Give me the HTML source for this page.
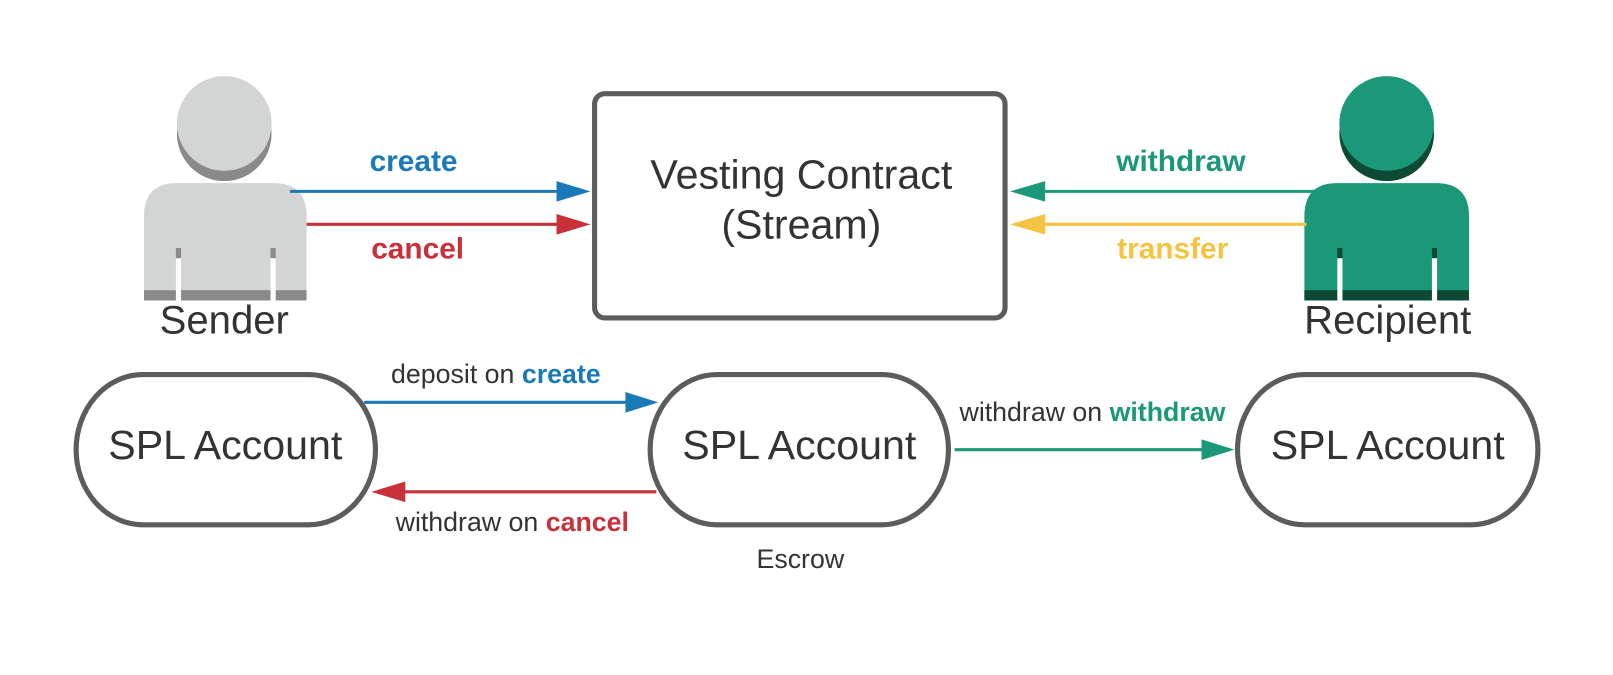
<!DOCTYPE html>
<html><head><meta charset="utf-8"><style>
html,body{margin:0;padding:0;background:#fff;}
svg{display:block;}
text{font-family:"Liberation Sans",sans-serif;}
</style></head><body>
<svg width="1613" height="675" viewBox="0 0 1568 656" preserveAspectRatio="none" xmlns="http://www.w3.org/2000/svg">
<!-- Sender -->
<g>
<circle cx="218" cy="130" r="46" fill="#8a8a8a"/>
<circle cx="218" cy="120" r="46" fill="#d3d4d4"/>
<path d="M140,292 L140,210 Q140,178 172,178 L266,178 Q298,178 298,210 L298,292 Z" fill="#d3d4d4"/>
<rect x="140" y="282" width="158" height="10" fill="#8a8a8a"/>
<rect x="171" y="241" width="5" height="10" fill="#8a8a8a"/>
<rect x="263" y="241" width="5" height="10" fill="#8a8a8a"/>
<rect x="171" y="251" width="5" height="41" fill="#fff"/>
<rect x="263" y="251" width="5" height="41" fill="#fff"/>
</g>
<text x="218" y="324" font-size="39" fill="#333" text-anchor="middle">Sender</text>
<!-- Recipient -->
<g>
<circle cx="1348" cy="130" r="46" fill="#0d4a33"/>
<circle cx="1348" cy="120" r="46" fill="#1b977a"/>
<path d="M1268,292 L1268,210 Q1268,178 1300,178 L1396,178 Q1428,178 1428,210 L1428,292 Z" fill="#1b977a"/>
<rect x="1268" y="282" width="160" height="10" fill="#0d4a33"/>
<rect x="1300" y="241" width="5" height="10" fill="#0d4a33"/>
<rect x="1392" y="241" width="5" height="10" fill="#0d4a33"/>
<rect x="1300" y="251" width="5" height="41" fill="#fff"/>
<rect x="1392" y="251" width="5" height="41" fill="#fff"/>
</g>
<text x="1349" y="324" font-size="39" fill="#333" text-anchor="middle">Recipient</text>
<!-- Box -->
<rect x="578" y="91" width="399" height="218" rx="10" fill="#fff" stroke="#5c5c5c" stroke-width="5"/>
<text x="779" y="183" font-size="40" fill="#333" text-anchor="middle">Vesting Contract</text>
<text x="779" y="232" font-size="40" fill="#333" text-anchor="middle">(Stream)</text>
<!-- top arrows -->
<line x1="282" y1="186" x2="545" y2="186" stroke="#1a7ab8" stroke-width="3"/>
<path d="M541,176 L574,186 L541,196 Z" fill="#1a7ab8"/>
<text x="402" y="166" font-size="29" font-weight="bold" fill="#1a7ab8" text-anchor="middle">create</text>
<line x1="298" y1="218" x2="545" y2="218" stroke="#c8303a" stroke-width="3"/>
<path d="M541,208 L574,218 L541,228 Z" fill="#c8303a"/>
<text x="406" y="251" font-size="29" font-weight="bold" fill="#c8303a" text-anchor="middle">cancel</text>
<line x1="1286" y1="186" x2="1012" y2="186" stroke="#1b977a" stroke-width="3"/>
<path d="M1016,176 L982,186 L1016,196 Z" fill="#1b977a"/>
<text x="1148" y="166" font-size="29" font-weight="bold" fill="#1b977a" text-anchor="middle">withdraw</text>
<line x1="1270" y1="218" x2="1012" y2="218" stroke="#f5c342" stroke-width="3"/>
<path d="M1016,208 L982,218 L1016,228 Z" fill="#f5c342"/>
<text x="1140" y="251" font-size="29" font-weight="bold" fill="#f5c342" text-anchor="middle">transfer</text>
<!-- Stadiums -->
<rect x="74" y="364" width="291" height="146" rx="65" ry="73" fill="#fff" stroke="#5c5c5c" stroke-width="5"/>
<rect x="632" y="364" width="290" height="146" rx="65" ry="73" fill="#fff" stroke="#5c5c5c" stroke-width="5"/>
<rect x="1203" y="364" width="292" height="146" rx="65" ry="73" fill="#fff" stroke="#5c5c5c" stroke-width="5"/>
<text x="219" y="446" font-size="40" fill="#333" text-anchor="middle">SPL Account</text>
<text x="777" y="446" font-size="40" fill="#333" text-anchor="middle">SPL Account</text>
<text x="1349" y="446" font-size="40" fill="#333" text-anchor="middle">SPL Account</text>
<text x="778" y="552" font-size="26" fill="#333" text-anchor="middle">Escrow</text>
<!-- bottom arrows -->
<line x1="354" y1="391" x2="612" y2="391" stroke="#1a7ab8" stroke-width="3"/>
<path d="M608,381 L640,391 L608,401 Z" fill="#1a7ab8"/>
<text x="482" y="372" font-size="26" fill="#333" text-anchor="middle">deposit on <tspan font-weight="bold" fill="#1a7ab8">create</tspan></text>
<line x1="638" y1="478" x2="390" y2="478" stroke="#c8303a" stroke-width="3"/>
<path d="M394,468 L361,478 L394,488 Z" fill="#c8303a"/>
<text x="498" y="516" font-size="26" fill="#333" text-anchor="middle">withdraw on <tspan font-weight="bold" fill="#c8303a">cancel</tspan></text>
<line x1="928" y1="437" x2="1172" y2="437" stroke="#1b977a" stroke-width="3"/>
<path d="M1168,427 L1200,437 L1168,447 Z" fill="#1b977a"/>
<text x="1062" y="409" font-size="26" fill="#333" text-anchor="middle">withdraw on <tspan font-weight="bold" fill="#1b977a">withdraw</tspan></text>
</svg>
</body></html>
